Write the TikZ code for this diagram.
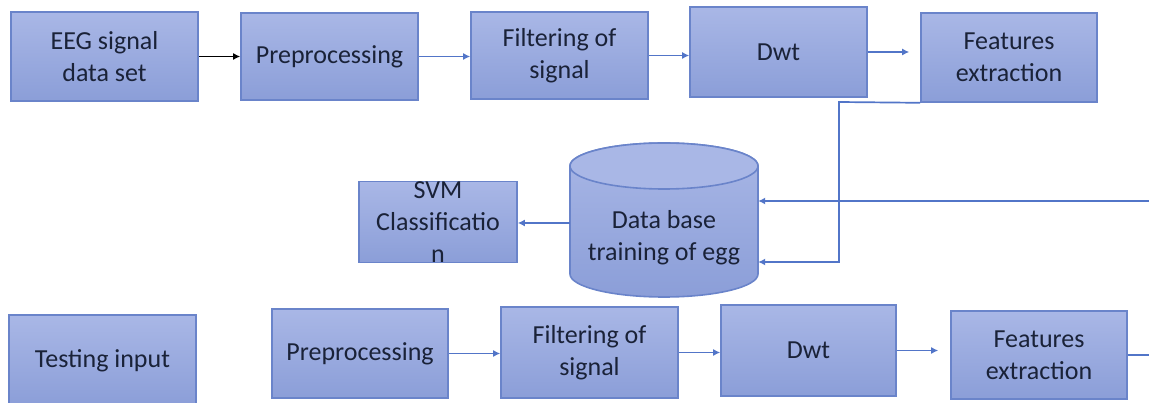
\documentclass[tikz,border=0pt]{standalone}
\usepackage{fontspec}
\setmainfont{Carlito}
\usetikzlibrary{arrows.meta}
\definecolor{boxtop}{HTML}{A9B7E6}
\definecolor{boxbot}{HTML}{8B9ED8}
\definecolor{boxline}{HTML}{6A84CA}
\definecolor{arrcol}{HTML}{5275C8}
\definecolor{txtcol}{HTML}{1A2238}
\begin{document}
\begin{tikzpicture}[x=1pt,y=-1pt,
  blk/.style n args={2}{draw=boxline, line width=1.6pt, top color=boxtop, bottom color=boxbot,
    minimum width=#1, minimum height=#2, inner sep=0pt, align=center, text=txtcol,
    font=\fontsize{26}{32}\selectfont},
  lbl/.style={align=center, text=txtcol, font=\fontsize{26}{32}\selectfont, inner sep=0pt},
  arr/.style={draw=arrcol, line width=1.7pt, -{Latex[length=7pt,width=7pt]}},
  ln/.style={draw=arrcol, line width=1.7pt}]
\useasboundingbox[fill=white] (0,0) rectangle (1149,403);

% top row
\node[blk={187pt}{89pt}] (eeg) at (104.5,56.5) {EEG signal\\data set};
\node[blk={177pt}{87pt}] (pre1) at (329.5,56.5) {Preprocessing};
\node[blk={177pt}{87pt}] (fil1) at (559.5,55.5) {Filtering of\\signal};
\node[blk={177pt}{90pt}] (dwt1) at (778.5,52) {Dwt};
\node[blk={176pt}{89pt}] (fea1) at (1009,57.5) {Features\\extraction};

% database cylinder
\node[minimum width=188pt, minimum height=154pt, inner sep=0pt] (db) at (664,220) {};
\path[top color=boxtop, bottom color=boxbot, draw=boxline, line width=1.6pt]
  (570,166) -- (570,274) arc[start angle=180, end angle=360, x radius=94pt, y radius=23pt]
  -- (758,166) arc[start angle=0, end angle=180, x radius=94pt, y radius=23pt] -- cycle;
\path[fill=boxtop, draw=boxline, line width=1.6pt] (664,166) ellipse [x radius=94pt, y radius=23pt];
\node[lbl] (dbt) at (664,238) {Data base\\training of egg};
\coordinate (dbA) at ([yshift=19pt]db.east);
\coordinate (dbB) at ([yshift=-42pt]db.east);

% SVM
\node[blk={158pt}{74pt}] (svm) at (438,222) {SVM\\Classificatio\\n};

% bottom row
\node[blk={187pt}{91pt}] (test) at (102.5,360.5) {Testing input};
\node[blk={176pt}{89pt}] (pre2) at (360,353.5) {Preprocessing};
\node[blk={177pt}{91pt}] (fil2) at (589.5,352.5) {Filtering of\\signal};
\node[blk={175pt}{91pt}] (dwt2) at (808.5,350.5) {Dwt};
\node[blk={176pt}{88pt}] (fea2) at (1039,355) {Features\\extraction};

% connectors top
\draw[arr, draw=black] (eeg.east) -- (eeg.east -| pre1.west);
\draw[arr] (pre1.east) -- (pre1.east -| fil1.west);
\draw[arr] (fil1.east) -- (fil1.east -| dwt1.west);
\draw[arr] (dwt1.east) -- ([xshift=-11pt]dwt1.east -| fea1.west);

% feedback into database
\coordinate (k1) at (839,102);
\draw[arr] (fea1.south west) -- (k1) |- (dbB);
\coordinate (edge) at (1151,355);
\draw[arr] (fea2.east) -- (edge) |- (dbA);

% database to SVM
\draw[arr] ([yshift=-3pt]db.west) -- ([yshift=-3pt]db.west -| svm.east);

% connectors bottom
\draw[arr] (pre2.east) -- (pre2.east -| fil2.west);
\draw[arr] (fil2.east) -- (fil2.east -| dwt2.west);
\draw[arr] (dwt2.east) -- ([xshift=-12pt]dwt2.east -| fea2.west);
\end{tikzpicture}
\end{document}
